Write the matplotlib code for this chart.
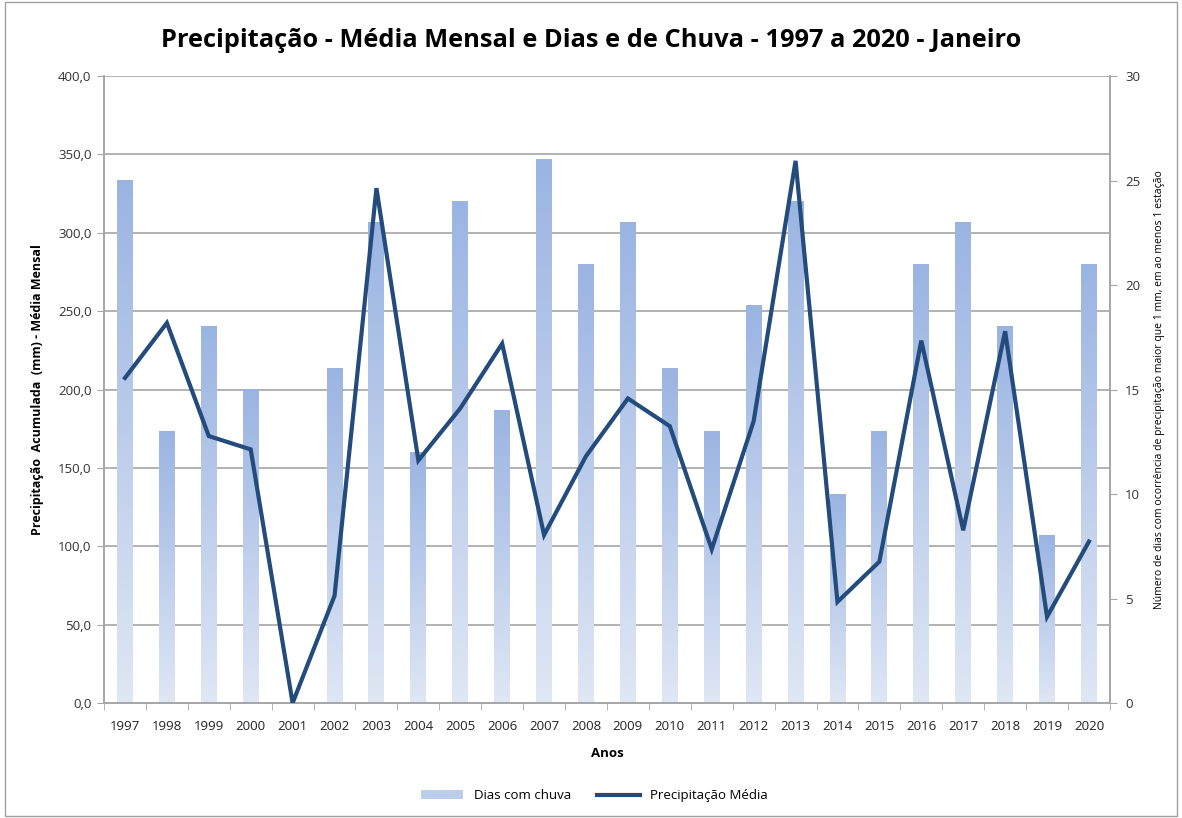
import numpy as np
import matplotlib.pyplot as plt
from matplotlib.patches import Patch, Rectangle
from matplotlib.lines import Line2D
from matplotlib.colors import LinearSegmentedColormap
from matplotlib.ticker import FuncFormatter, MultipleLocator

plt.rcParams['font.family'] = ['Open Sans', 'DejaVu Sans']

anos = [str(a) for a in range(1997, 2021)]
dias_chuva = [25, 13, 18, 15, 0, 16, 23, 12, 24, 14, 26, 21,
              23, 16, 13, 19, 24, 10, 13, 21, 23, 18, 8, 21]
precip_media = [207.4, 242.5, 170.3, 161.8, 0.0, 68.4, 328.5, 154.8,
                188.0, 229.3, 107.2, 157.5, 194.3, 176.6, 98.1, 179.8,
                345.9, 64.5, 90.2, 231.2, 110.2, 237.2, 55.0, 103.0]

bar_top = '#9AB4E2'
bar_bottom = '#E0E7F5'
line_color = '#234B7C'
grid_color = '#A6A6A6'

fig = plt.figure(figsize=(11.82, 8.18), dpi=100)
ax = fig.add_axes([0.088, 0.1406, 0.851, 0.7664])
ax2 = ax.twinx()

x = np.arange(len(anos))
largura = 0.38

# barras no eixo da direita, com gradiente vertical
cmap = LinearSegmentedColormap.from_list('barra', [bar_bottom, bar_top])
grad = np.linspace(0, 1, 256).reshape(-1, 1)
ax2.set_ylim(0, 30)
for xi, d in zip(x, dias_chuva):
    if d <= 0:
        continue
    ax2.imshow(grad, cmap=cmap, origin='lower', aspect='auto',
               extent=(xi - largura / 2, xi + largura / 2, 0, d), zorder=1)

# linhas de grade atras das barras
for v in np.arange(50, 401, 50):
    ax2.axhline(v * 30 / 400, color=grid_color, lw=1.2, zorder=0)

# linha no eixo da esquerda, por cima
ax.set_zorder(ax2.get_zorder() + 1)
ax.patch.set_visible(False)
ax.plot(x, precip_media, color=line_color, lw=3, solid_joinstyle='miter', zorder=3)
ax.set_ylim(0, 400)
ax.set_xlim(-0.5, len(anos) - 0.5)
ax.yaxis.set_major_locator(MultipleLocator(50))
ax.yaxis.set_major_formatter(FuncFormatter(lambda v, p: f'{v:.1f}'.replace('.', ',')))

ax.set_xticks(x)
ax.set_xticklabels(anos)
ax.set_xticks(np.arange(-0.5, len(anos), 1), minor=True)
ax.tick_params(axis='x', which='major', length=0, pad=12, labelsize=9.5, colors='#222222')
ax.tick_params(axis='x', which='minor', length=5, color=grid_color)
ax.tick_params(axis='y', length=5, color=grid_color, labelsize=9.5, labelcolor='#333333', pad=4)

ax2.yaxis.set_major_locator(MultipleLocator(5))
ax2.tick_params(axis='y', length=5, color=grid_color, labelsize=9.5, labelcolor='#333333', pad=6)

for a in (ax, ax2):
    a.spines['top'].set_visible(False)
    for s in ('left', 'right', 'bottom'):
        a.spines[s].set_color(grid_color)
        a.spines[s].set_linewidth(1.2)

ax.set_ylabel('Precipitação  Acumulada  (mm) - Média Mensal', fontsize=9,
              fontweight='bold', labelpad=10)
ax2.set_ylabel('Número de dias com ocorrência de precipitação maior que 1 mm, em ao menos 1 estação',
               fontsize=7.5, labelpad=10)
ax.set_xlabel('Anos', fontsize=9.5, fontweight='bold', labelpad=10)

fig.text(0.5, 0.95, 'Precipitação - Média Mensal e Dias e de Chuva - 1997 a 2020 - Janeiro',
         ha='center', va='center', fontsize=18.3, fontweight='bold')

handles = [Patch(facecolor='#BCCDEC', edgecolor='none', label='Dias com chuva'),
           Line2D([0], [0], color=line_color, lw=3, label='Precipitação Média')]
fig.legend(handles=handles, loc='center', bbox_to_anchor=(0.503, 0.027), ncol=2,
           frameon=False, fontsize=9.5, handlelength=3.2, columnspacing=2.0)

fig.patches.append(Rectangle((0.004, 0.002), 0.992, 0.996, transform=fig.transFigure,
                             fill=False, edgecolor='#A0A0A0', lw=1))

fig.savefig('out.png', dpi=100)
